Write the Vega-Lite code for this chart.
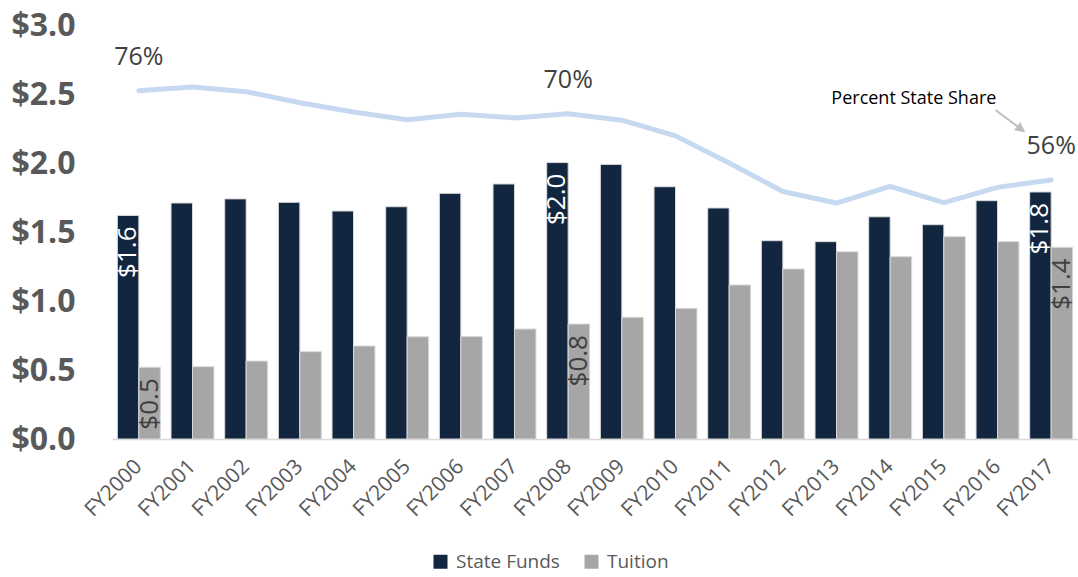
{
  "$schema": "https://vega.github.io/schema/vega-lite/v6.json",
  "width": 966,
  "height": 414,
  "autosize": "none",
  "padding": {"left": 112, "top": 25, "right": 0, "bottom": 138},
  "background": "white",
  "config": {"view": {"stroke": null}, "font": "Open Sans"},
  "datasets": {
    "bars": [
      {"fy": "FY2000", "series": "State Funds", "value": 1.62, "label": "$1.6"},
      {"fy": "FY2000", "series": "Tuition", "value": 0.52, "label": "$0.5"},
      {"fy": "FY2001", "series": "State Funds", "value": 1.71, "label": null},
      {"fy": "FY2001", "series": "Tuition", "value": 0.524, "label": null},
      {"fy": "FY2002", "series": "State Funds", "value": 1.74, "label": null},
      {"fy": "FY2002", "series": "Tuition", "value": 0.565, "label": null},
      {"fy": "FY2003", "series": "State Funds", "value": 1.715, "label": null},
      {"fy": "FY2003", "series": "Tuition", "value": 0.633, "label": null},
      {"fy": "FY2004", "series": "State Funds", "value": 1.652, "label": null},
      {"fy": "FY2004", "series": "Tuition", "value": 0.674, "label": null},
      {"fy": "FY2005", "series": "State Funds", "value": 1.683, "label": null},
      {"fy": "FY2005", "series": "Tuition", "value": 0.741, "label": null},
      {"fy": "FY2006", "series": "State Funds", "value": 1.78, "label": null},
      {"fy": "FY2006", "series": "Tuition", "value": 0.742, "label": null},
      {"fy": "FY2007", "series": "State Funds", "value": 1.848, "label": null},
      {"fy": "FY2007", "series": "Tuition", "value": 0.797, "label": null},
      {"fy": "FY2008", "series": "State Funds", "value": 2.003, "label": "$2.0"},
      {"fy": "FY2008", "series": "Tuition", "value": 0.833, "label": "$0.8"},
      {"fy": "FY2009", "series": "State Funds", "value": 1.99, "label": null},
      {"fy": "FY2009", "series": "Tuition", "value": 0.882, "label": null},
      {"fy": "FY2010", "series": "State Funds", "value": 1.828, "label": null},
      {"fy": "FY2010", "series": "Tuition", "value": 0.947, "label": null},
      {"fy": "FY2011", "series": "State Funds", "value": 1.674, "label": null},
      {"fy": "FY2011", "series": "Tuition", "value": 1.116, "label": null},
      {"fy": "FY2012", "series": "State Funds", "value": 1.437, "label": null},
      {"fy": "FY2012", "series": "Tuition", "value": 1.232, "label": null},
      {"fy": "FY2013", "series": "State Funds", "value": 1.43, "label": null},
      {"fy": "FY2013", "series": "Tuition", "value": 1.357, "label": null},
      {"fy": "FY2014", "series": "State Funds", "value": 1.61, "label": null},
      {"fy": "FY2014", "series": "Tuition", "value": 1.321, "label": null},
      {"fy": "FY2015", "series": "State Funds", "value": 1.553, "label": null},
      {"fy": "FY2015", "series": "Tuition", "value": 1.466, "label": null},
      {"fy": "FY2016", "series": "State Funds", "value": 1.727, "label": null},
      {"fy": "FY2016", "series": "Tuition", "value": 1.43, "label": null},
      {"fy": "FY2017", "series": "State Funds", "value": 1.79, "label": "$1.8"},
      {"fy": "FY2017", "series": "Tuition", "value": 1.389, "label": "$1.4"}
    ],
    "share": [
      {"fy": "FY2000", "share": 0.757, "label": "76%"},
      {"fy": "FY2001", "share": 0.765, "label": null},
      {"fy": "FY2002", "share": 0.755, "label": null},
      {"fy": "FY2003", "share": 0.731, "label": null},
      {"fy": "FY2004", "share": 0.711, "label": null},
      {"fy": "FY2005", "share": 0.694, "label": null},
      {"fy": "FY2006", "share": 0.706, "label": null},
      {"fy": "FY2007", "share": 0.698, "label": null},
      {"fy": "FY2008", "share": 0.707, "label": "70%"},
      {"fy": "FY2009", "share": 0.693, "label": null},
      {"fy": "FY2010", "share": 0.659, "label": null},
      {"fy": "FY2011", "share": 0.6, "label": null},
      {"fy": "FY2012", "share": 0.538, "label": null},
      {"fy": "FY2013", "share": 0.513, "label": null},
      {"fy": "FY2014", "share": 0.549, "label": null},
      {"fy": "FY2015", "share": 0.514, "label": null},
      {"fy": "FY2016", "share": 0.547, "label": null},
      {"fy": "FY2017", "share": 0.563, "label": "56%"}
    ]
  },
  "resolve": {"scale": {"y": "independent"}},
  "layer": [
    {
      "data": {"name": "bars"},
      "layer": [
        {
          "mark": {"type": "bar", "stroke": "#d9d9d9", "strokeWidth": 1},
          "encoding": {
            "x": {
              "field": "fy", "type": "nominal", "sort": null,
              "scale": {"paddingInner": 0.2, "paddingOuter": 0.1},
              "axis": {
                "title": null, "labelAngle": -45, "labelAlign": "right", "labelBaseline": "middle",
                "labelFontSize": 21, "labelColor": "#595959", "labelPadding": 24,
                "ticks": false, "domainColor": "#d9d9d9", "domainWidth": 1.5, "grid": false
              }
            },
            "xOffset": {"field": "series", "type": "nominal", "sort": ["State Funds", "Tuition"]},
            "y": {
              "field": "value", "type": "quantitative",
              "scale": {"domain": [0, 3], "nice": false},
              "axis": {
                "title": null, "values": [0, 0.5, 1, 1.5, 2, 2.5, 3], "format": "$.1f",
                "labelFontSize": 32, "labelFontWeight": "bold", "labelColor": "#595959",
                "labelPadding": 37, "ticks": false, "domain": false, "grid": false
              }
            },
            "color": {
              "field": "series", "type": "nominal",
              "scale": {"domain": ["State Funds", "Tuition"], "range": ["#12263f", "#a6a6a6"]},
              "legend": {
                "title": null, "orient": "none", "legendX": 319, "legendY": 527, "direction": "horizontal",
                "labelFontSize": 19, "labelColor": "#595959", "symbolType": "square", "symbolSize": 196,
                "symbolStrokeWidth": 0, "labelOffset": 6, "columnPadding": 22
              }
            }
          }
        },
        {
          "transform": [{"filter": "isValid(datum.label)"}],
          "mark": {"type": "text", "angle": 270, "align": "right", "baseline": "middle", "dx": -11, "fontSize": 26},
          "encoding": {
            "x": {"field": "fy", "type": "nominal", "sort": null},
            "xOffset": {"field": "series", "type": "nominal", "sort": ["State Funds", "Tuition"]},
            "y": {"field": "value", "type": "quantitative"},
            "text": {"field": "label"},
            "color": {"condition": {"test": "datum.series === 'State Funds'", "value": "#ffffff"}, "value": "#404040"}
          }
        }
      ]
    },
    {
      "data": {"name": "share"},
      "layer": [
        {
          "mark": {"type": "line", "color": "#c6d9f1", "strokeWidth": 5, "strokeCap": "round", "strokeJoin": "round"},
          "encoding": {
            "x": {"field": "fy", "type": "nominal", "sort": null},
            "y": {"field": "share", "type": "quantitative", "scale": {"domain": [0, 0.9], "nice": false}, "axis": null}
          }
        },
        {
          "transform": [{"filter": "isValid(datum.label)"}],
          "mark": {"type": "text", "fontSize": 25, "color": "#404040", "baseline": "alphabetic", "dy": -26},
          "encoding": {
            "x": {"field": "fy", "type": "nominal", "sort": null},
            "y": {"field": "share", "type": "quantitative", "axis": null},
            "text": {"field": "label"}
          }
        },
        {
          "transform": [{"filter": "datum.fy === 'FY2015'"}],
          "mark": {"type": "text", "text": "Percent State Share", "fontSize": 18, "color": "#000000", "baseline": "alphabetic", "dx": -30},
          "encoding": {
            "x": {"datum": "FY2015", "type": "nominal"},
            "y": {"datum": 0.7283, "type": "quantitative", "axis": null}
          }
        },
        {
          "transform": [{"filter": "datum.fy === 'FY2016'"}],
          "mark": {
            "type": "point", "shape": "M-1,-0.75L0.6,0.45M1,0.75L0.45,0.65L0.75,0.25Z",
            "size": 784, "filled": true, "color": "#bfbfbf", "stroke": "#bfbfbf", "strokeWidth": 2,
            "opacity": 1, "xOffset": 12
          },
          "encoding": {
            "x": {"datum": "FY2016", "type": "nominal"},
            "y": {"datum": 0.6924, "type": "quantitative", "axis": null}
          }
        }
      ]
    }
  ]
}
